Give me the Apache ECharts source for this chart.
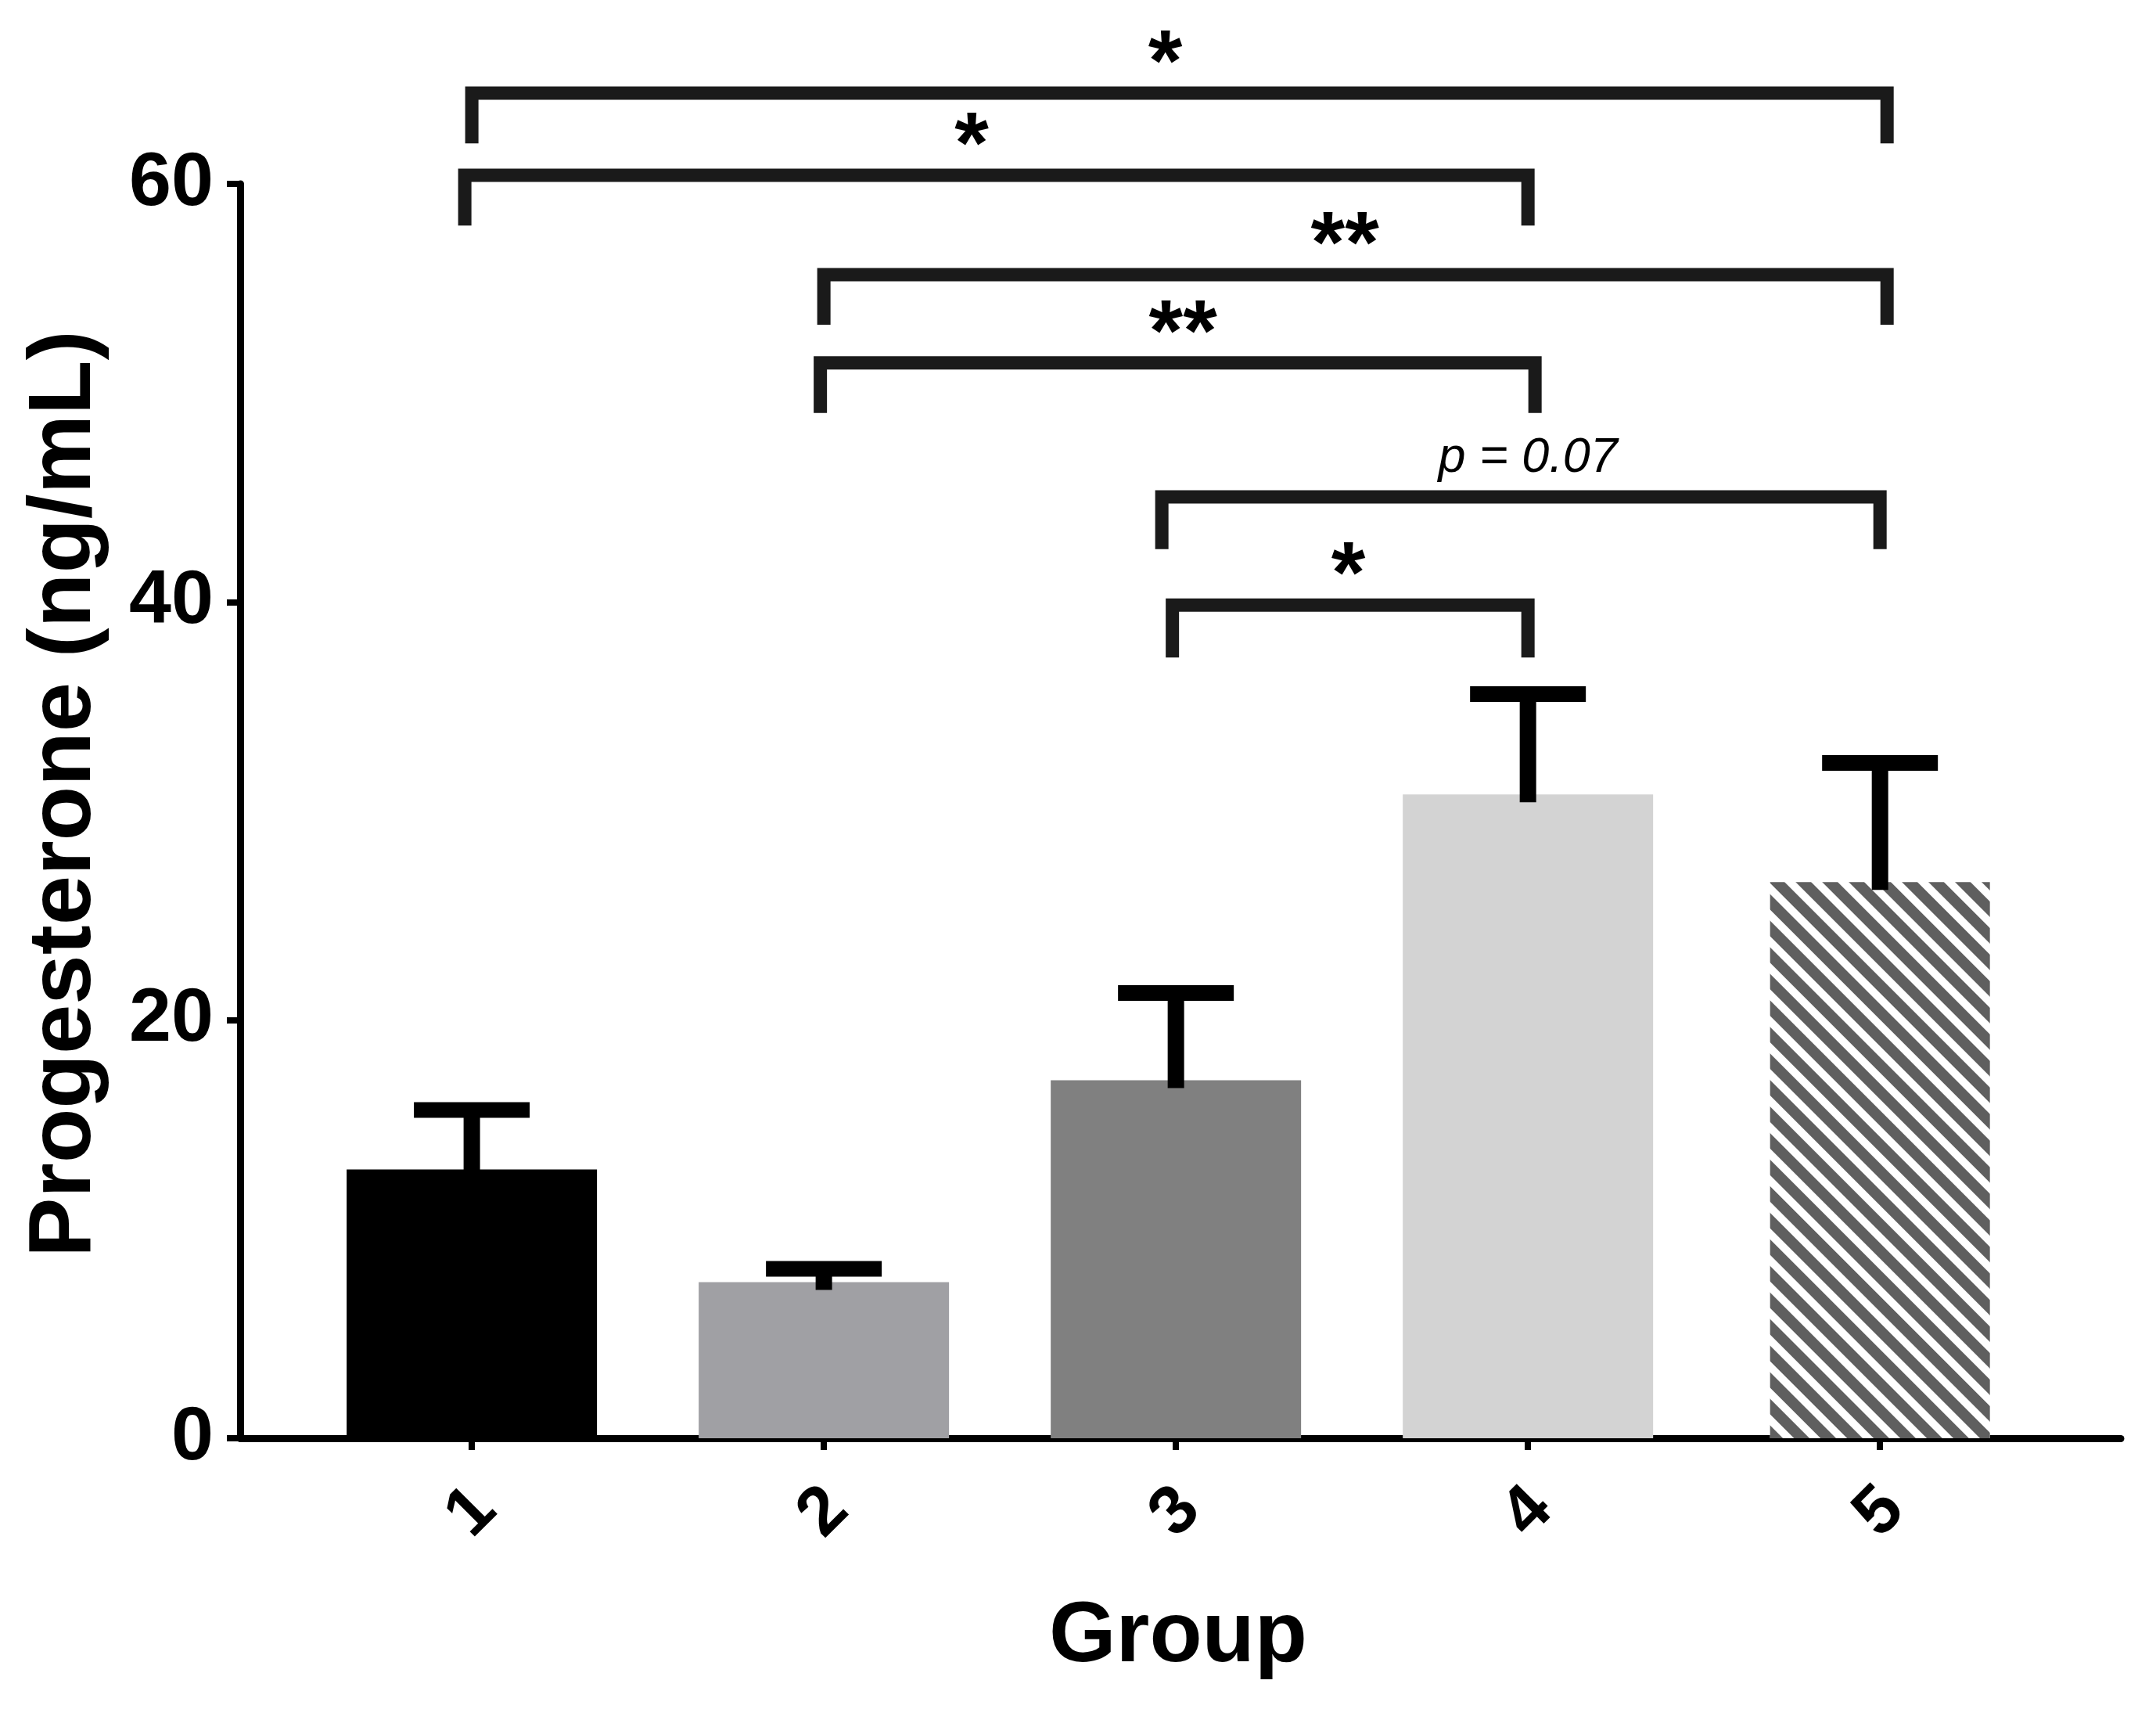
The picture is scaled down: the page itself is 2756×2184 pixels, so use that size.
<!DOCTYPE html>
<html>
<head>
<meta charset="utf-8">
<script src="https://cdn.jsdelivr.net/npm/echarts@6/dist/echarts.min.js"></script>
<style>
  html, body { margin: 0; padding: 0; background: #fff; }
  #chart { width: 2756px; height: 2184px; }
</style>
</head>
<body>
<div id="chart"></div>
<script>
// groups on the x axis and their values
var groups = [1, 2, 3, 4, 5]
var groupLabels = ['1', '2', '3', '4', '5']
var means = [12.86, 7.47, 17.12, 30.8, 26.6]
var sems = [2.84, 0.63, 4.18, 4.8, 5.7]
var barColors = ['#000000', '#a0a0a4', '#808080', '#d3d3d3', '#ffffff']

// y axis ticks
var yTicks = [0, 20, 40, 60]

// significance brackets
var bracketFrom = [1.0, 0.98, 2.0, 1.99, 2.96, 2.99]
var bracketTo = [5.02, 4.0, 5.02, 4.02, 5.0, 4.0]
var bracketLevel = [64.34, 60.41, 55.66, 51.44, 45.03, 39.85]
var bracketDrop = [2.4, 2.4, 2.4, 2.4, 2.5, 2.5]
var bracketLabel = ['*', '*', '**', '**', 'p = 0.07', '*']
var bracketLabelX = [2.97, 2.42, 3.48, 3.02, 4.0, 3.49]

var FONT = '"Liberation Sans", Arial, sans-serif'
var chart = echarts.init(document.getElementById('chart'))

var solidBars = []
for (var i = 0; i < 4; i++) {
	solidBars.push({ value: [groups[i], means[i]], itemStyle: { color: barColors[i] } })
}

var errData = []
for (var i = 0; i < groups.length; i++) {
	errData.push([groups[i], means[i], means[i] + sems[i]])
}

var bracketData = []
for (var i = 0; i < bracketFrom.length; i++) {
	bracketData.push([bracketFrom[i], bracketTo[i], bracketLevel[i], bracketDrop[i], bracketLabelX[i], i])
}

function renderErr(params, api) {
	var base = api.coord([api.value(0), api.value(1)])
	var top = api.coord([api.value(0), api.value(2)])
	return {
		type: 'group',
		children: [
			{ type: 'rect', shape: { x: base[0] - 10.5, y: top[1], width: 21, height: base[1] - top[1] + 10 }, style: { fill: '#000' } },
			{ type: 'rect', shape: { x: top[0] - 74, y: top[1] - 10, width: 148, height: 20 }, style: { fill: '#000' } }
		]
	}
}

function renderBracket(params, api) {
	var idx = api.value(5)
	var lvl = api.value(2)
	var p1 = api.coord([api.value(0), lvl - api.value(3)])
	var p2 = api.coord([api.value(0), lvl])
	var p3 = api.coord([api.value(1), lvl])
	var p4 = api.coord([api.value(1), lvl - api.value(3)])
	var lab = api.coord([api.value(4), lvl])
	var txt = bracketLabel[idx]
	var isStar = txt.indexOf('*') >= 0
	return {
		type: 'group',
		children: [
			{
				type: 'polyline',
				shape: { points: [p1, p2, p3, p4] },
				style: { stroke: '#1a1a1a', lineWidth: 17, fill: null, lineJoin: 'miter', lineCap: 'butt' }
			},
			{
				type: 'text',
				style: {
					text: txt,
					x: lab[0],
					y: isStar ? lab[1] - 34 : lab[1] - 49,
					fill: '#000',
					font: isStar ? ('bold 112px ' + FONT) : ('italic 63px ' + FONT),
					align: 'center',
					verticalAlign: 'middle'
				}
			}
		]
	}
}

var xMin = 0.342, xMax = 5.684

var option = {
	backgroundColor: '#fff',
	animation: false,
	grid: { left: 307, right: 45, top: 235, bottom: 346 },
	xAxis: [{
		type: 'value',
		min: xMin,
		max: xMax,
		splitLine: { show: false },
		axisLine: { show: true, lineStyle: { color: '#000', width: 9 } },
		axisTick: {
			show: true, customValues: groups, length: 15,
			lineStyle: { color: '#000', width: 8 }
		},
		axisLabel: {
			customValues: groups,
			formatter: function (v) { return groupLabels[groups.indexOf(v)] },
			rotate: 45,
			align: 'center',
			verticalAlign: 'middle',
			margin: 95,
			color: '#000',
			fontSize: 88,
			fontWeight: 'bold',
			fontFamily: FONT
		},
		name: 'Group',
		nameLocation: 'middle',
		nameGap: 200,
		nameTextStyle: { color: '#000', fontSize: 110, fontWeight: 'bold', fontFamily: FONT, padding: [0, 6, 0, 0] }
	}, {
		type: 'value',
		min: xMin,
		max: xMax,
		show: false
	}],
	yAxis: {
		type: 'value',
		min: 0,
		max: 60,
		interval: 20,
		splitLine: { show: false },
		axisLine: { show: true, lineStyle: { color: '#000', width: 9 } },
		axisTick: { show: true, length: 17, lineStyle: { color: '#000', width: 8 } },
		axisLabel: {
			margin: 34,
			color: '#000',
			fontSize: 97,
			fontWeight: 'bold',
			fontFamily: FONT,
			formatter: function (v) { return yTicks.indexOf(v) >= 0 ? String(v) : '' }
		},
		name: 'Progesterone (ng/mL)',
		nameLocation: 'middle',
		nameRotate: 90,
		nameGap: 166,
		nameTextStyle: { color: '#000', fontSize: 114, fontWeight: 'bold', fontFamily: FONT, padding: [0, 0, 0, 44] }
	},
	series: [
		{
			type: 'bar',
			xAxisIndex: 0,
			barWidth: 320,
			data: solidBars,
			z: 2
		},
		{
			type: 'bar',
			xAxisIndex: 1,
			barWidth: 281,
			data: [{ value: [groups[4], means[4]] }],
			itemStyle: {
				color: barColors[4],
				decal: {
					symbol: 'rect',
					symbolSize: 1,
					color: '#5f5f5f',
					backgroundColor: '#ffffff',
					dashArrayX: [1, 0],
					dashArrayY: [14, 10],
					rotation: Math.PI / 4
				}
			},
			z: 2
		},
		{
			type: 'custom',
			xAxisIndex: 0,
			renderItem: renderErr,
			data: errData,
			z: 3
		},
		{
			type: 'custom',
			xAxisIndex: 0,
			renderItem: renderBracket,
			data: bracketData,
			clip: false,
			z: 4
		}
	]
}
chart.setOption(option)
</script>
</body>
</html>
